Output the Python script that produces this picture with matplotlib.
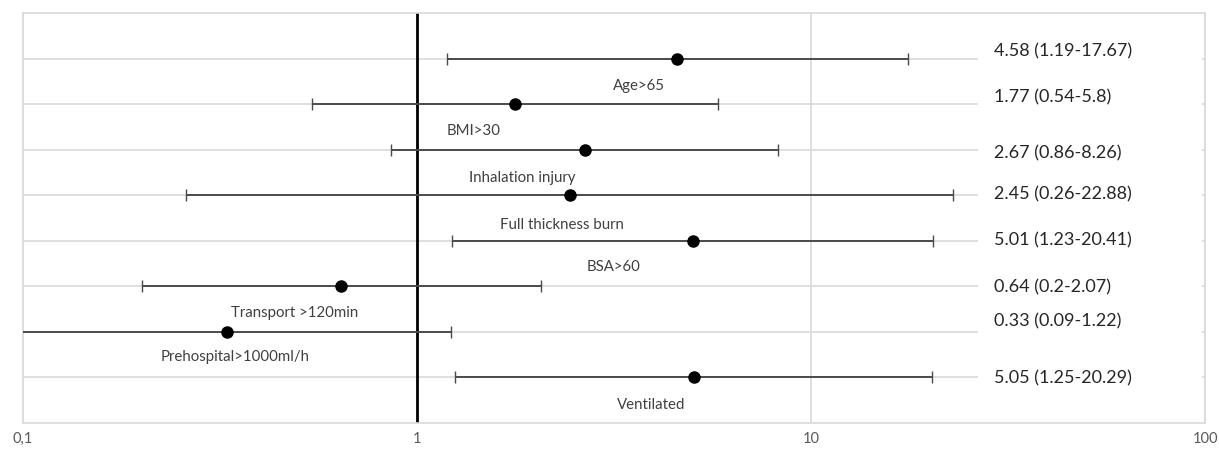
import matplotlib
matplotlib.use("Agg")
import matplotlib.pyplot as plt
from matplotlib.patches import Rectangle
from matplotlib.transforms import blended_transform_factory

# Odds ratios with 95% confidence intervals
factors = ["Age>65", "BMI>30", "Inhalation injury", "Full thickness burn",
           "BSA>60", "Transport >120min", "Prehospital>1000ml/h", "Ventilated"]
odds_ratio = [4.58, 1.77, 2.67, 2.45, 5.01, 0.64, 0.33, 5.05]
ci_low = [1.19, 0.54, 0.86, 0.26, 1.23, 0.20, 0.09, 1.25]
ci_high = [17.67, 5.8, 8.26, 22.88, 20.41, 2.07, 1.22, 20.29]
ci_text = ["4.58 (1.19-17.67)", "1.77 (0.54-5.8)", "2.67 (0.86-8.26)",
           "2.45 (0.26-22.88)", "5.01 (1.23-20.41)", "0.64 (0.2-2.07)",
           "0.33 (0.09-1.22)", "5.05 (1.25-20.29)"]
x_ticks = [0.1, 1, 10, 100]
x_tick_labels = ["0,1", "1", "10", "100"]

# Layout: where each factor name sits (x in data units) and vertical nudges
name_x = [3.66, 1.395, 1.85, 2.33, 3.16, 0.49, 0.345, 3.92]
name_dy = [-0.59, -0.56, -0.61, -0.64, -0.55, -0.57, -0.53, -0.59]
text_dy = [0.17, 0.16, -0.05, 0.03, 0.04, 0.0, 0.26, 0.0]

plt.rcParams["font.family"] = ["Lato", "DejaVu Sans"]

fig = plt.figure(figsize=(12.19, 4.52), dpi=100)
ax = fig.add_axes([23 / 1219, 1 - 424 / 452, (1205 - 23) / 1219, (424 - 14) / 452])

n = len(factors)
ys = [n - i for i in range(n)]

ax.set_xscale("log")
ax.set_xlim(0.1, 100)
ax.set_ylim(0, n + 1)

grid_c = "#d9d9d9"
for s in ax.spines.values():
    s.set_color(grid_c)
    s.set_linewidth(1.2)

ax.set_xticks(x_ticks, labels=x_tick_labels)
ax.minorticks_off()
ax.set_yticks(range(1, n + 1))
ax.set_yticklabels([])
ax.tick_params(axis="both", length=0)
ax.tick_params(axis="x", pad=6, labelsize=10.5, labelcolor="#595959")
ax.grid(True, which="major", color=grid_c, linewidth=1.2)
ax.set_axisbelow(True)

# reference line at OR = 1
ax.axvline(1, color="black", linewidth=2, zorder=2)

xerr = [[o - l for o, l in zip(odds_ratio, ci_low)],
        [h - o for o, h in zip(odds_ratio, ci_high)]]
ax.errorbar(odds_ratio, ys, xerr=xerr, fmt="none", ecolor="#4a4a4a",
            elinewidth=1.4, capsize=4, capthick=1.0, zorder=3)
ax.plot(odds_ratio, ys, "o", color="black", markersize=8, zorder=4)

for y, name, nx, dy in zip(ys, factors, name_x, name_dy):
    ax.text(nx, y + dy, name, ha="center", va="center",
            fontsize=10.8, color="#404040", zorder=5)

# white panel behind the CI texts on the right
trans = blended_transform_factory(ax.transData, ax.transAxes)
ax.add_patch(Rectangle((26.5, 0.01), 98.2 - 26.5, 0.98, transform=trans,
                       facecolor="white", edgecolor="none", zorder=1.5))

for y, t, dy in zip(ys, ci_text, text_dy):
    ax.text(29.2, y + dy, t, ha="left", va="center", fontsize=13,
            color="#262626", zorder=5)

fig.savefig("out.png", dpi=100, facecolor="white")
